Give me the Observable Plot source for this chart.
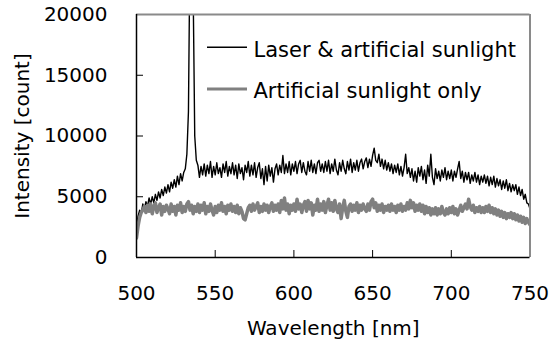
<!DOCTYPE html>
<html>
<head>
<meta charset="utf-8">
<script src="https://cdn.jsdelivr.net/npm/d3@7"></script>
<script src="https://cdn.jsdelivr.net/npm/@observablehq/plot@0.6"></script>
<style>
  body { margin: 0; background: #fff; }
  #chart { width: 551px; height: 345px; }
</style>
</head>
<body>
<div id="chart"></div>
<script>
// Spectra sampled every 1 nm from 500 nm to 750 nm (intensity in counts).
const startNm = 500;

const laserAndSunlight = [
  2500, 3400, 3900, 3600, 4400, 4000, 4600, 4200, 4900, 4400,
  5000, 4500, 5200, 4700, 5400, 4900, 5600, 5100, 5800, 5300,
  6000, 5400, 6200, 5700, 6400, 5800, 6700, 6000, 6900, 6300,
  7000, 7300, 8500, 12000, 26000, 32000, 22000, 10000, 8000, 7600,
  6600, 7500, 6800, 7700, 6700, 7600, 6900, 7900, 6600, 7500,
  6800, 7800, 6900, 7400, 6600, 7700, 7000, 7900, 6700, 7500,
  6900, 7800, 6800, 7600, 6500, 7700, 6900, 7400, 6400, 7600,
  7000, 7900, 6700, 7600, 6800, 7800, 6600, 7400, 7800, 6500,
  7300, 6000, 7500, 6300, 7600, 6700, 7400, 6200, 7300, 7700,
  6800, 7600, 7000, 8400, 6900, 7700, 7000, 7900, 6800, 7700,
  7100, 7900, 6900, 7700, 8000, 7000, 7800, 7100, 6800, 7900,
  7100, 8000, 7000, 7700, 6900, 7800, 8000, 7100, 7700, 7000,
  7900, 7100, 8000, 6900, 7700, 7100, 8100, 7200, 6800, 7800,
  7100, 8000, 7300, 6900, 7900, 7200, 8100, 7000, 7800, 7200,
  8000, 7100, 7800, 8100, 7300, 7900, 8200, 7400, 8100, 7500,
  8400, 9000, 8000, 7800, 8500, 7500, 8100, 7300, 8000, 7200,
  7800, 7100, 7700, 6900, 7600, 7000, 7700, 6800, 7500, 6700,
  7400, 8500, 6900, 7400, 6600, 7300, 6300, 7100, 6200, 7400,
  6700, 7500, 6400, 7200, 6100, 7600, 6700, 8500, 6600, 6000,
  7300, 6500, 7100, 6300, 7200, 6600, 7400, 6400, 7100, 6500,
  7200, 6300, 7100, 6600, 7300, 7900, 6500, 7100, 6200, 7000,
  6400, 7000, 6100, 6800, 6300, 7000, 6200, 6800, 6000, 6700,
  6200, 6800, 6100, 6700, 5900, 6600, 6000, 6700, 5800, 6500,
  5900, 6400, 5600, 6300, 5700, 6400, 5500, 6100, 5400, 6000,
  5500, 6000, 5200, 5800, 5100, 5600, 4800, 5200, 4500, 4400,
  4000
];

const sunlightOnly = [
  1600, 2600, 3300, 3700, 3900, 4200, 3700, 4300, 3800, 4400,
  3600, 4200, 4500, 3700, 4100, 4400, 3500, 4200, 3800, 4300,
  4000, 3600, 4400, 3800, 4200, 3500, 4300, 3900, 4500, 3700,
  4200, 3800, 4400, 4600, 3900, 4300, 3600, 4200, 3800, 4400,
  3700, 4300, 3900, 4500, 3600, 4200, 3800, 4400, 3900, 3500,
  4200, 3700, 4300, 3900, 4500, 3800, 4200, 3600, 4300, 3900,
  4400, 3800, 4200, 3700, 4300, 3600, 4100, 3800, 3200, 3100,
  3600, 4100, 4300, 3800, 4400, 3900, 4200, 4500, 3700, 4200,
  3800, 4400, 3900, 4300, 3700, 4200, 4500, 3800, 4300, 3900,
  4400, 3700, 4700, 4000, 4900, 3900, 4400, 3600, 4300, 3900,
  4400, 3800, 4800, 4000, 4400, 3700, 4300, 4600, 3800, 4700,
  4000, 4500, 3500, 4300, 3900, 4800, 3800, 4400, 3900, 4600,
  3700, 4300, 4800, 3900, 4500, 3800, 4700, 4000, 3700, 4400,
  3200, 4100, 4700, 3800, 3300, 4200, 4400, 3800, 4300, 3900,
  4500, 3700, 4300, 3900, 4400, 4000, 3800, 4400, 3900, 4600,
  4800, 4100, 4500, 3800, 4300, 3900, 4400, 3700, 4200, 3900,
  4300, 3800, 4400, 3900, 4200, 3700, 4300, 3900, 4400, 3800,
  4200, 3900, 4500, 4000, 4700, 4100, 4500, 3800, 4300, 3900,
  4400, 3800, 4300, 3600, 4200, 3700, 4100, 3500, 4000, 3600,
  4100, 3500, 4000, 3600, 4200, 3700, 3500, 4000, 3600, 4100,
  3700, 4200, 3600, 4000, 3500, 3900, 4300, 3800, 4100, 4400,
  4000, 4800, 4200, 3900, 4300, 3700, 4100, 3800, 4200, 3700,
  4100, 3700, 4200, 3800, 4300, 3700, 4100, 3600, 4000, 3500,
  3900, 3400, 3800, 3300, 3700, 3200, 3600, 3300, 3700, 3200,
  3600, 3100, 3500, 3000, 3400, 2900, 3300, 2800, 3200, 2900,
  2700
];

const seriesNames = ["Laser & artificial sunlight", "Artificial sunlight only"];
const xTicks = [500, 550, 600, 650, 700, 750];
const yTicks = [0, 5000, 10000, 15000, 20000];

const toRows = (values) => values.map((v, i) => ({nm: startNm + i, v}));
const laserRows = toRows(laserAndSunlight);
const sunRows = toRows(sunlightOnly);

const W = 551, H = 345;
const mL = 136, mR = 21.5, mT = 14, mB = 88;
const frameW = W - mL - mR, frameH = H - mT - mB;
const font = "'DejaVu Sans', sans-serif";
const grayLine = "#808080";
const grayFrame = "#8a8a8a";

const svg = Plot.plot({
  width: W,
  height: H,
  marginLeft: mL,
  marginRight: mR,
  marginTop: mT,
  marginBottom: mB,
  style: {fontFamily: font, fontSize: "20px", color: "#000", background: "#fff", overflow: "visible"},
  x: {domain: [500, 750], label: null},
  y: {domain: [0, 20000], label: null},
  marks: [
    // spectra
    Plot.line(laserRows, {x: "nm", y: "v", stroke: "#000", strokeWidth: 1.4, clip: true}),
    Plot.line(sunRows, {x: "nm", y: "v", stroke: grayLine, strokeWidth: 3.5, clip: true}),
    // plot box: dark left/bottom, gray top/right
    Plot.ruleY([20000], {stroke: grayFrame, strokeWidth: 2}),
    Plot.ruleX([750], {stroke: grayFrame, strokeWidth: 2}),
    Plot.ruleX([500], {stroke: "#000", strokeWidth: 1.5}),
    Plot.ruleY([0], {stroke: "#000", strokeWidth: 1.5}),
    // inward tick marks
    Plot.ruleX(xTicks.slice(1, -1), {stroke: "#000", strokeWidth: 1, insetTop: frameH - 7}),
    Plot.ruleY(yTicks.slice(1, -1), {stroke: "#000", strokeWidth: 1, insetRight: frameW - 7}),
    // tick labels
    Plot.axisX(xTicks, {tickSize: 0, tickPadding: 28, label: null, tickFormat: d => String(d)}),
    Plot.axisY(yTicks, {tickSize: 0, tickPadding: 29, label: null, tickFormat: d => String(d)}),
    // axis titles
    Plot.text(["Wavelength [nm]"], {frameAnchor: "bottom", dy: 71.5, textAnchor: "middle", lineAnchor: "middle", fontSize: 20, fill: "#000"}),
    Plot.text(["Intensity [count]"], {frameAnchor: "left", rotate: -90, dx: -114, textAnchor: "middle", lineAnchor: "middle", fontSize: 20, fill: "#000"}),
    // legend labels
    Plot.text([seriesNames[0]], {frameAnchor: "top-left", dx: 117, dy: 35.5, textAnchor: "start", lineAnchor: "middle", fontSize: 21, fill: "#000"}),
    Plot.text([seriesNames[1]], {frameAnchor: "top-left", dx: 117, dy: 77, textAnchor: "start", lineAnchor: "middle", fontSize: 21, fill: "#000"})
  ]
});

// legend swatches
const sel = d3.select(svg);
const sw = sel.append("g");
sw.append("line").attr("x1", 207).attr("x2", 247).attr("y1", 47.3).attr("y2", 47.3)
  .attr("stroke", "#000").attr("stroke-width", 1.5);
sw.append("line").attr("x1", 207).attr("x2", 247).attr("y1", 89).attr("y2", 89)
  .attr("stroke", grayLine).attr("stroke-width", 3);

document.getElementById("chart").appendChild(svg);
</script>
</body>
</html>
